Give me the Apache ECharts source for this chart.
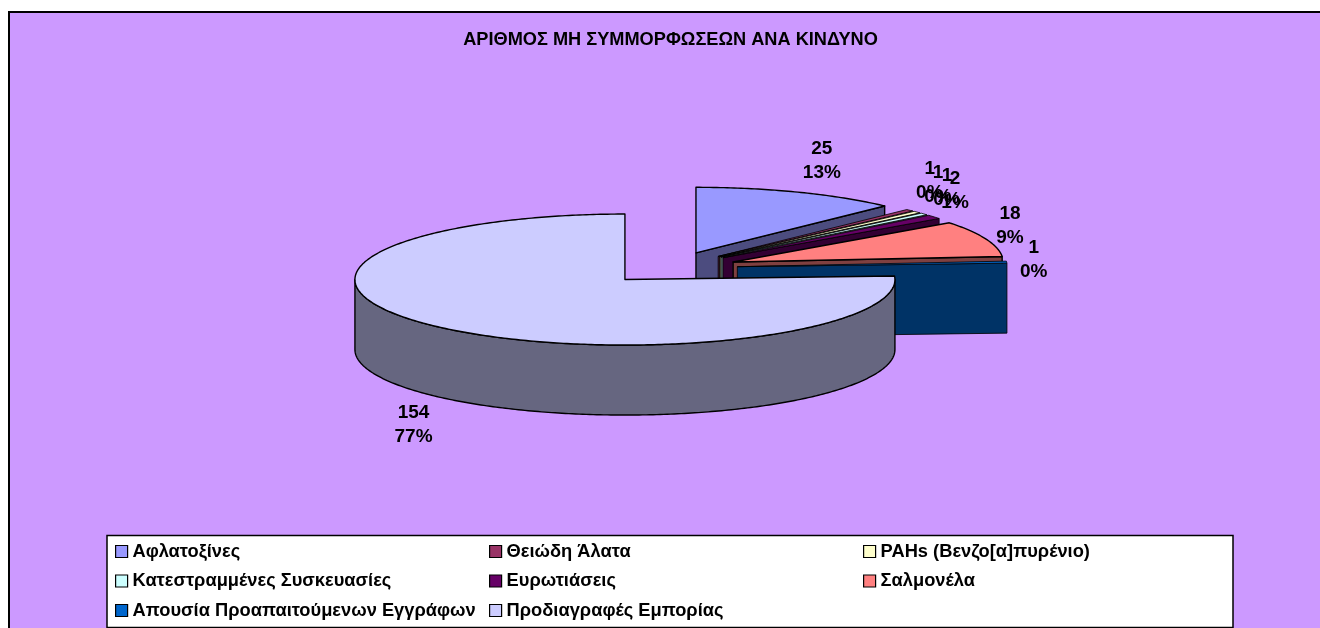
<!DOCTYPE html>
<html><head><meta charset="utf-8">
<style>html,body{margin:0;padding:0;background:#fff}#c{width:1320px;height:628px}</style>
<script src="https://cdn.jsdelivr.net/npm/echarts@6/dist/echarts.min.js"></script>
</head><body><div id="c"></div>
<script>
var chartTitle = 'ΑΡΙΘΜΟΣ ΜΗ ΣΥΜΜΟΡΦΩΣΕΩΝ ΑΝΑ ΚΙΝΔΥΝΟ';
var categories = ['Αφλατοξίνες','Θειώδη Άλατα','PAHs (Βενζο[α]πυρένιο)','Κατεστραμμένες Συσκευασίες','Ευρωτιάσεις','Σαλμονέλα','Απουσία Προαπαιτούμενων Εγγράφων','Προδιαγραφές Εμπορίας'];
var values = [25,1,1,1,2,18,1,154];
var percentLabels = ['13%','0%','0%','0%','1%','9%','0%','77%'];
var topColors = ['#9999FF','#993366','#FFFFCC','#CCFFFF','#660066','#FF8080','#0066CC','#CCCCFF'];
var wallColors = ['#4C4C7F','#4C1933','#7F7F66','#667F7F','#330033','#7F4040','#003366','#666680'];

// layout of the tilted, exploded pie
var PIE = {cx:670.8, cy:267.8, rx:270, ry:65.5, depth:70, explode:66.7, explodeY:16.18};
// label position relative to the rim midpoint of each slice
var labelNudge = [[24,-31],[20,-30],[21,-27.5],[23,-26.4],[21,-26],[24.5,-12.7],[27,-2.6],[-25.7,98]];
var legendColumns = [[0,3,6],[1,4,7],[2,5]];
var legendLeft = [115,489,863];

var total = values.reduce(function(a,b){return a+b;},0);
function startAngle(i){var s=0;for(var k=0;k<i;k++)s+=values[k];return s/total*360;}
function rad(d){return d*Math.PI/180;}

function sliceItem(i){
  return function(params, api){
    var a=startAngle(i), b=a+values[i]/total*360, m=(a+b)/2;
    var ox=PIE.cx+PIE.explode*Math.sin(rad(m)), oy=PIE.cy-PIE.explodeY*Math.cos(rad(m));
    function rim(t,dz){return [ox+PIE.rx*Math.sin(rad(t)), oy-PIE.ry*Math.cos(rad(t))+(dz||0)];}
    function arc(s,e,dz){var p=[],n=Math.max(2,Math.ceil((e-s)/0.75));for(var j=0;j<=n;j++)p.push(rim(s+(e-s)*j/n,dz));return p;}
    var stroke={stroke:'#000',lineWidth:values[i]<=2?0.8:1.4,lineJoin:'round'};
    var kids=[];
    function poly(pts,fill){kids.push({type:'polygon',shape:{points:pts},style:Object.assign({fill:fill},stroke)});}
    var wall=wallColors[i];
    // radial cut faces that look toward the viewer
    if(Math.sin(rad(b))>0.0001){var e=rim(b);poly([[ox,oy],e,[e[0],e[1]+PIE.depth],[ox,oy+PIE.depth]],wall);}
    if(Math.sin(rad(a))<-0.0001){var s=rim(a);poly([[ox,oy],s,[s[0],s[1]+PIE.depth],[ox,oy+PIE.depth]],wall);}
    // outer wall, front half only
    var fs=Math.max(a,90), fe=Math.min(b,270);
    if(fe>fs){poly(arc(fs,fe,0).concat(arc(fs,fe,PIE.depth).reverse()),wall);}
    // top face
    poly([[ox,oy]].concat(arc(a,b,0)),topColors[i]);
    // data label
    var q=[PIE.cx+(PIE.explode+PIE.rx)*Math.sin(rad(m)), PIE.cy-(PIE.explodeY+PIE.ry)*Math.cos(rad(m))];
    kids.push({type:'text',z2:100,style:{x:q[0]+labelNudge[i][0],y:q[1]+labelNudge[i][1],
      text:values[i]+'\n'+percentLabels[i],align:'center',verticalAlign:'middle',
      font:'bold 19px "Liberation Sans", Arial, sans-serif',lineHeight:24,fill:'#000'}});
    return {type:'group',children:kids};
  };
}

var series = categories.map(function(name,i){
  return {type:'custom',name:name,coordinateSystem:'none',silent:true,animation:false,
    z:2+i*0.01,clip:false,data:[values[i]],renderItem:sliceItem(i),
    itemStyle:{color:topColors[i],borderColor:'#000',borderWidth:1.2}};
});
var legends = legendColumns.map(function(col,k){
  return {show:true,orient:'vertical',left:legendLeft[k],top:542.5,itemGap:11.5,itemWidth:12,itemHeight:12,
    icon:'rect',selectedMode:false,padding:0,
    data:col.map(function(i){return {name:categories[i],itemStyle:{color:topColors[i],borderColor:'#000',borderWidth:1.2}};}),
    textStyle:{fontFamily:'"Liberation Sans", Arial, sans-serif',fontWeight:'bold',fontSize:18.3,color:'#000',padding:0}};
});

var chart = echarts.init(document.getElementById('c'),null,{renderer:'canvas'});
chart.setOption({
  animation:false,backgroundColor:'#fff',tooltip:{show:false},
  title:{text:chartTitle,left:670.5,top:31,textAlign:'center',padding:0,
    textStyle:{fontFamily:'"Liberation Sans", Arial, sans-serif',fontWeight:'bold',fontSize:18.2,color:'#000'}},
  legend:legends,
  graphic:[
    {type:'rect',z:0,shape:{x:9,y:12,width:1320,height:630},style:{fill:'#CC99FF',stroke:'#000',lineWidth:2}},
    {type:'rect',z:1,shape:{x:107,y:535.5,width:1126,height:92},style:{fill:'#fff',stroke:'#000',lineWidth:1.5}}
  ],
  series:series
});
</script></body></html>
